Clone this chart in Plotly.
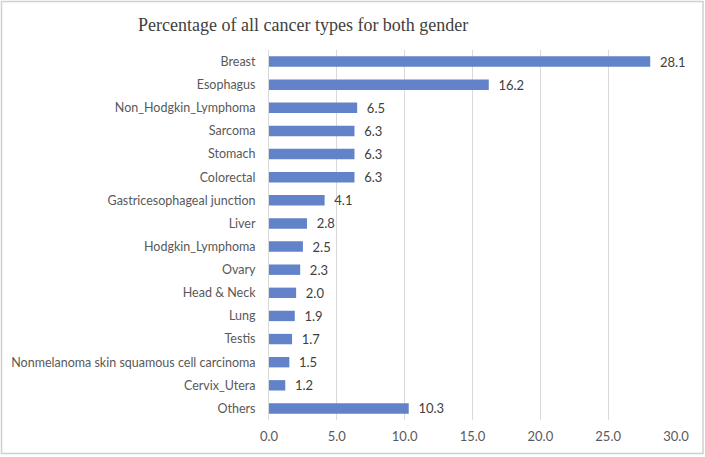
import plotly.graph_objects as go

categories = ["Breast", "Esophagus", "Non_Hodgkin_Lymphoma", "Sarcoma", "Stomach", "Colorectal",
              "Gastricesophageal junction", "Liver", "Hodgkin_Lymphoma", "Ovary", "Head & Neck",
              "Lung", "Testis", "Nonmelanoma skin squamous cell carcinoma", "Cervix_Utera", "Others"]
values = [28.1, 16.2, 6.5, 6.3, 6.3, 6.3, 4.1, 2.8, 2.5, 2.3, 2.0, 1.9, 1.7, 1.5, 1.2, 10.3]
x_ticks = [0, 5, 10, 15, 20, 25, 30]
x_tick_labels = ["0.0", "5.0", "10.0", "15.0", "20.0", "25.0", "30.0"]

W, H = 705, 457
L, R, T, B = 269, 29, 50, 37
pw, ph = W - L - R, H - T - B
FONT = "Lato, Noto Sans, Liberation Sans, sans-serif"

fig = go.Figure(go.Bar(
    x=values, y=categories, orientation="h",
    marker=dict(color="#6283C9", line=dict(width=0)),
    width=0.45,
    text=[f"  {v:.1f}" for v in values], textposition="outside",
    constraintext="none",
    textfont=dict(family=FONT, size=13, color="#404040"),
    cliponaxis=False,
))

fig.update_layout(
    width=W, height=H,
    margin=dict(l=L, r=R, t=T, b=B, autoexpand=False),
    paper_bgcolor="white", plot_bgcolor="white",
    showlegend=False,
    title=dict(text="Percentage of all cancer types for both gender",
               font=dict(family="Liberation Serif, Times New Roman, serif", size=18, color="#404040"),
               x=138 / W, xanchor="left", y=1 - 25 / H, yanchor="middle"),
    font=dict(family=FONT, size=12.5, color="#595959"),
)
fig.update_xaxes(range=[0, 30], tickvals=x_ticks, ticktext=x_tick_labels, automargin=False,
                 showgrid=True, gridcolor="#D9D9D9", gridwidth=1, zeroline=False,
                 showline=False, ticks="", ticklabelstandoff=7,
                 tickfont=dict(size=13, color="#595959"))
fig.update_yaxes(categoryorder="array", categoryarray=categories[::-1], automargin=False,
                 range=[-0.5, len(categories) - 0.5],
                 showgrid=False, zeroline=False, showline=True, linecolor="#D9D9D9", linewidth=1,
                 ticks="", ticklabelstandoff=10, tickfont=dict(size=12.5, color="#595959"))

fig.add_shape(type="rect", xref="paper", yref="paper",
              x0=(1.5 - L) / pw, x1=(703 - L) / pw,
              y0=(H - B - 453.5) / ph, y1=(H - B - 1.5) / ph,
              line=dict(color="#D0D0D0", width=1.5), fillcolor="rgba(0,0,0,0)", layer="below")

fig.write_html("out.html", config={"displayModeBar": False},
               post_script="document.body.style.margin='0';")
